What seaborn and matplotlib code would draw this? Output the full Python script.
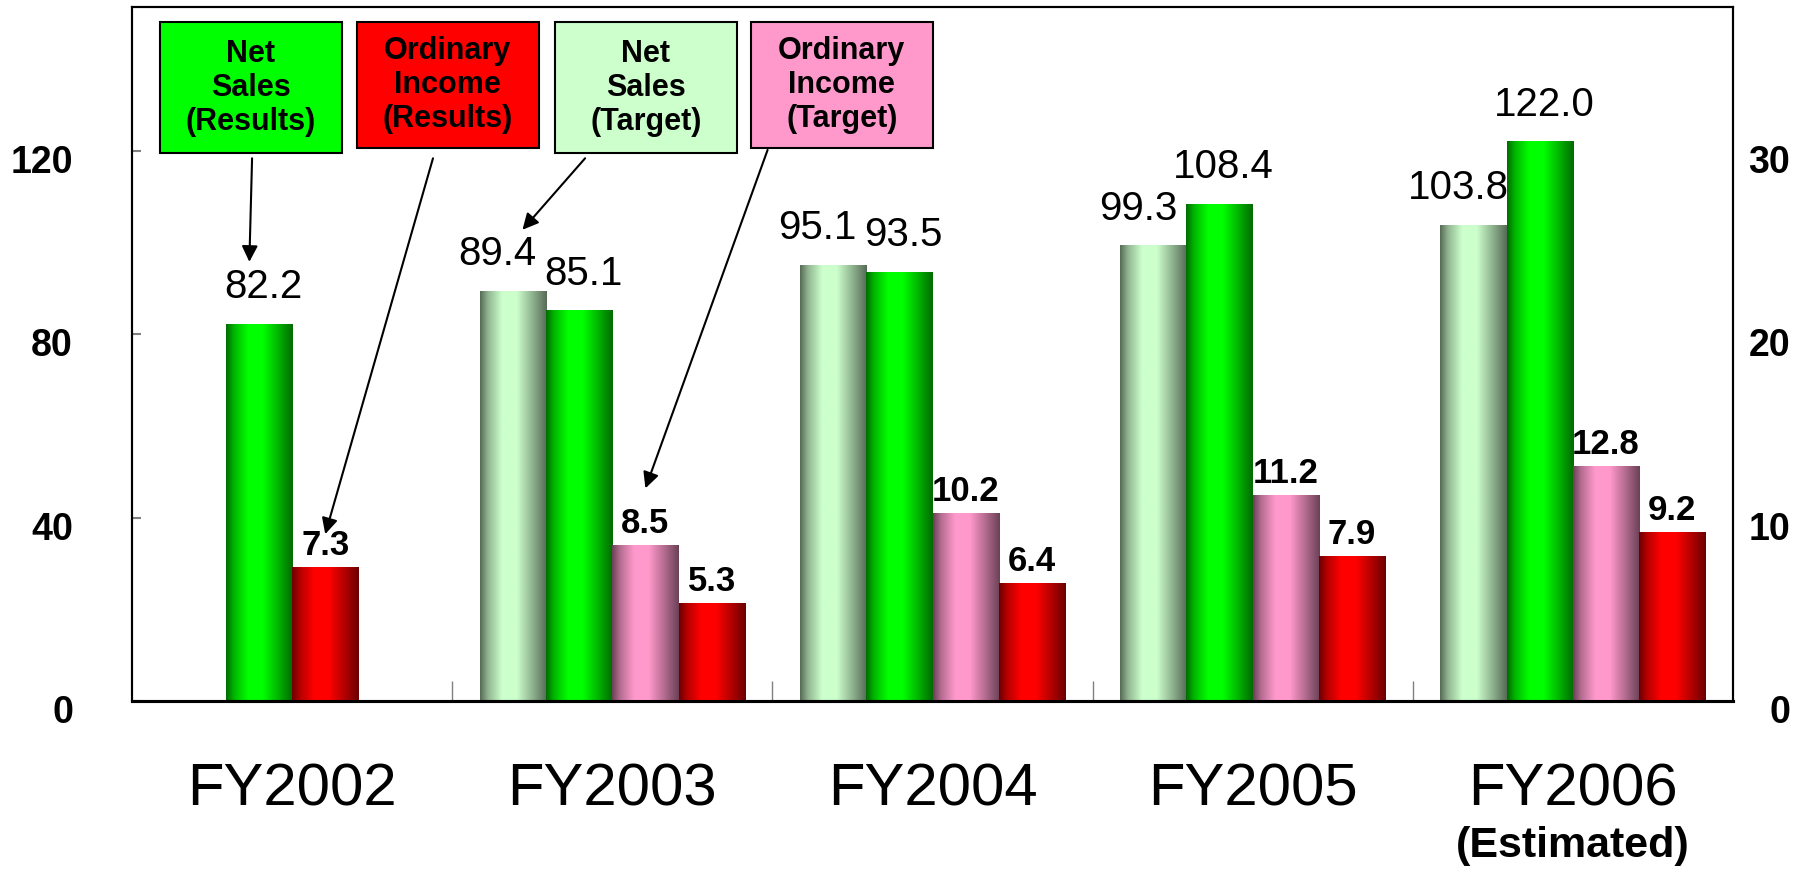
import numpy as np
import pandas as pd
import seaborn as sns
import matplotlib.pyplot as plt
from matplotlib.patches import Rectangle
from matplotlib.transforms import ScaledTranslation, blended_transform_factory

# data
years = ['FY2002', 'FY2003', 'FY2004', 'FY2005', 'FY2006']
net_sales_target = [np.nan, 89.4, 95.1, 99.3, 103.8]
net_sales_results = [82.2, 85.1, 93.5, 108.4, 122.0]
income_target = [np.nan, 8.5, 10.2, 11.2, 12.8]
income_results = [7.3, 5.3, 6.4, 7.9, 9.2]

series_names = ['Net Sales (Target)', 'Net Sales (Results)',
                'Ordinary Income (Target)', 'Ordinary Income (Results)']
series_vals = [net_sales_target, net_sales_results, income_target, income_results]
series_colors = ['#ccffcc', '#00ff00', '#ff99cc', '#ff0000']
legend_order = [1, 3, 0, 2]

left_ticks = [0, 40, 80, 120]
right_ticks = [0, 10, 20, 30]

BAR_W = 0.207

# long table, bars centred in each year group (FY2002 has only results)
rows = []
for g, yr in enumerate(years):
    present = [k for k in range(4) if not np.isnan(series_vals[k][g])]
    for j, k in enumerate(present):
        rows.append({'year': yr, 'series': series_names[k],
                     'value': series_vals[k][g],
                     'x': g + (j - (len(present) - 1) / 2) * BAR_W})
df = pd.DataFrame(rows)

sns.set_style('white')
plt.rcParams['font.family'] = ['Liberation Sans', 'DejaVu Sans']
plt.rcParams['text.color'] = 'black'

fig = plt.figure(figsize=(18.01, 8.69), dpi=100)
ax = fig.add_axes([132 / 1801, 168 / 869, 1601 / 1801, 694 / 869])
ax2 = ax.twinx()

for k, name in enumerate(series_names):
    sub = df[df['series'] == name]
    sns.barplot(data=sub, x='x', y='value', native_scale=True, orient='x',
                width=BAR_W, color=series_colors[k], saturation=1,
                errorbar=None, ax=ax if k < 2 else ax2)

# cylinder-like horizontal gradient on every bar
t = np.linspace(0, 1, 256)
w = np.interp(t, [0, 0.12, 0.33, 0.55, 0.8, 1], [0, 0.5, 1, 1, 0.45, 0])
for a in (ax, ax2):
    for p in list(a.patches):
        light = np.array(p.get_facecolor()[:3])
        dark = light * 0.42
        grad = dark + (light - dark) * w[:, None]
        x0, y0 = p.get_x(), p.get_y()
        a.imshow(grad[None, :, :], extent=[x0, x0 + p.get_width(), y0, y0 + p.get_height()],
                 aspect='auto', interpolation='bilinear', zorder=p.get_zorder())
        p.set_facecolor('none')
        p.set_edgecolor('none')

# value labels (target labels nudged left, as in the original)
for k, name in enumerate(series_names):
    sub = df[df['series'] == name]
    a = ax if k < 2 else ax2
    for x, v in zip(sub['x'], sub['value']):
        if k < 2:
            dx = -11 if k == 0 else 3
            a.annotate(f'{v:.1f}', (x, v), xytext=(dx, 13), textcoords='offset points',
                       ha='center', va='bottom', fontsize=29, zorder=7)
        else:
            a.annotate(f'{v:.1f}', (x, v), xytext=(0, 4), textcoords='offset points',
                       ha='center', va='bottom', fontsize=25, fontweight='bold', zorder=7)

# axes
ax.set_xlim(-0.5, len(years) - 0.5)
ax.set_ylim(0, 151.4)
ax2.set_ylim(0, 151.4 / 4)
ax.set_yticks(left_ticks)
ax2.set_yticks(right_ticks)
ax.set_xticks(np.arange(len(years) - 1) + 0.5, labels=[''] * (len(years) - 1))
ax.set_xticks(np.arange(len(years)), labels=years, minor=True)
for a in (ax, ax2):
    a.set_xlabel('')
    a.set_ylabel('')
ax.tick_params(axis='x', which='major', direction='in', length=14.4, width=1,
               color='#808080', bottom=True)
ax.tick_params(axis='x', which='minor', length=0, pad=44, labelsize=43,
               labelcolor='black', bottom=True)
ax.tick_params(axis='y', direction='in', length=6.5, width=1.5, color='#808080',
               pad=42.5, labelsize=27, labelcolor='black', left=True)
ax2.tick_params(axis='y', length=0, pad=41, labelsize=27, labelcolor='black', right=True)

shift = ScaledTranslation(0, -0.08, fig.dpi_scale_trans)
for lab in ax.get_yticklabels():
    lab.set_fontweight('bold')
    lab.set_transform(lab.get_transform() + shift)
for lab in ax2.get_yticklabels():
    lab.set_fontweight('bold')
    lab.set_ha('right')
    lab.set_transform(lab.get_transform() + shift)

trans = blended_transform_factory(ax.transData, ax.transAxes)
ax.text(years.index('FY2006'), -0.209, '(Estimated)', transform=trans,
        ha='center', va='center', fontsize=31, fontweight='bold')

for a in (ax, ax2):
    for s in a.spines.values():
        s.set_visible(True)
        s.set_color('black')
        s.set_linewidth(1.5)
    a.spines['bottom'].set_linewidth(2.2)

# legend boxes
box_left = [0.0175, 0.1405, 0.2642, 0.3866]
box_h = [0.189, 0.181, 0.189, 0.181]
box_w = 0.1135
for i, k in enumerate(legend_order):
    ax2.add_patch(Rectangle((box_left[i], 0.978 - box_h[i]), box_w, box_h[i],
                            transform=ax2.transAxes, facecolor=series_colors[k],
                            edgecolor='black', lw=1.5, zorder=8))
    ax2.text(box_left[i] + box_w / 2, 0.978 - box_h[i] / 2, series_names[k].replace(' ', '\n'),
             transform=ax2.transAxes, ha='center', va='center', fontsize=22,
             fontweight='bold', linespacing=1.17, zorder=9)

# arrows from legend boxes to the first bars of each series
arrow_specs = [  # series, year, dx, dy, start (axes fraction)
    (1, 'FY2002', -0.03, 13.6, (0.075, 0.782)),
    (3, 'FY2002', 0.0, 1.8, (0.188, 0.782)),
    (0, 'FY2003', 0.03, 13.4, (0.283, 0.782)),
    (2, 'FY2003', 0.0, 3.1, (0.397, 0.794)),
]
for k, yr, dx, dy, start in arrow_specs:
    row = df[(df['series'] == series_names[k]) & (df['year'] == yr)].iloc[0]
    a = ax if k < 2 else ax2
    ax2.annotate('', xy=(row['x'] + dx, row['value'] + dy), xycoords=a.transData,
                 xytext=start, textcoords=ax2.transAxes,
                 arrowprops=dict(arrowstyle='-|>', color='black', lw=1.5,
                                 mutation_scale=24, shrinkA=0, shrinkB=0),
                 zorder=9)

fig.savefig('out.png', dpi=100)
